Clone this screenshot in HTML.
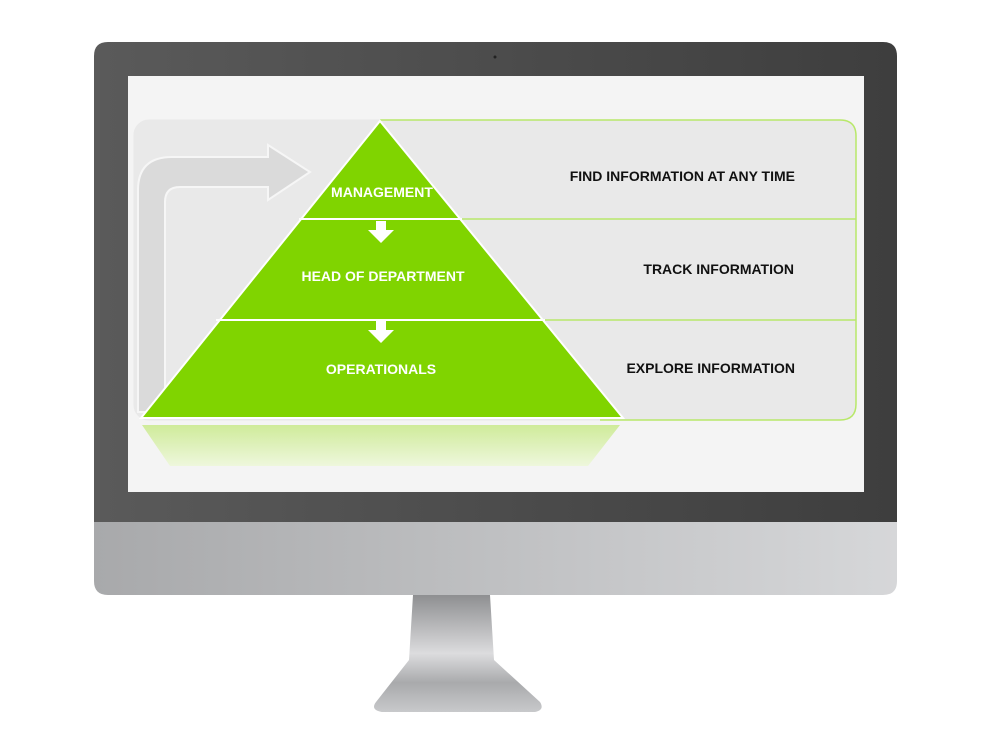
<!DOCTYPE html>
<html><head><meta charset="utf-8"><style>
html,body{margin:0;padding:0;background:#fff;width:1000px;height:750px;overflow:hidden}
svg{display:block}
text{font-family:"Liberation Sans",Arial,sans-serif;font-weight:bold}
</style></head><body>
<svg width="1000" height="750" viewBox="0 0 1000 750" xmlns="http://www.w3.org/2000/svg">
<defs>
<linearGradient id="bez" x1="0" x2="1" y1="0" y2="0"><stop offset="0" stop-color="#5a5a5a"/><stop offset="1" stop-color="#3e3e3e"/></linearGradient>
<linearGradient id="chin" x1="0" x2="1"><stop offset="0" stop-color="#a8a9ab"/><stop offset="0.5" stop-color="#bfc0c2"/><stop offset="1" stop-color="#d6d7d9"/></linearGradient>
<linearGradient id="stand" x1="0" x2="0" y1="0" y2="1"><stop offset="0" stop-color="#8e8f91"/><stop offset="0.5" stop-color="#dcdcde"/><stop offset="0.75" stop-color="#a9aaac"/><stop offset="1" stop-color="#c8c9cb"/></linearGradient>
<linearGradient id="refl" x1="0" x2="0" y1="0" y2="1"><stop offset="0" stop-color="#cfeb9a"/><stop offset="1" stop-color="#eef7dc"/></linearGradient>
</defs>
<!-- stand -->
<path d="M413 595 L490 595 L494 660 L540 702 Q545 710 535 712 L382 712 Q370 710 376 702 L409 660 Z" fill="url(#stand)"/>
<!-- bezel -->
<path d="M94 56 Q94 42 108 42 L883 42 Q897 42 897 56 L897 522 L94 522 Z" fill="url(#bez)"/>
<path d="M94 522 L897 522 L897 581 Q897 595 883 595 L108 595 Q94 595 94 581 Z" fill="url(#chin)"/>
<circle cx="495" cy="57" r="1.5" fill="#222"/>
<!-- screen -->
<rect x="128" y="76" width="736" height="416" fill="#f4f4f4"/>
<rect x="133" y="119" width="723" height="302" rx="16" fill="#e9e9e9" stroke="#f4f4f4"/>
<!-- right box green edges -->
<path d="M380 120 L840 120 Q856 120 856 136 L856 404 Q856 420 840 420 L600 420" fill="none" stroke="#b8e86a" stroke-width="1.5"/>
<line x1="460" y1="219" x2="856" y2="219" stroke="#b8e86a" stroke-width="1.5"/>
<line x1="540" y1="320" x2="856" y2="320" stroke="#b8e86a" stroke-width="1.5"/>
<!-- curved arrow -->
<path d="M138 412 L138 190 Q138 157 172 157 L268 157 L268 145 L310 172 L268 200 L268 187 L180 187 Q165 187 165 202 L165 412 Z" fill="#dadada" stroke="#f6f6f6" stroke-width="2"/>
<!-- pyramid -->
<path d="M380 121 L623 418 L141 418 Z" fill="#80d400" stroke="#fff" stroke-width="2"/>
<line x1="299" y1="219" x2="462" y2="219" stroke="#fff" stroke-width="2"/>
<line x1="216" y1="320" x2="545" y2="320" stroke="#fff" stroke-width="2"/>
<!-- down arrows -->
<path d="M376 221 L386 221 L386 230 L394 230 L381 243 L368 230 L376 230 Z" fill="#fff"/>
<path d="M376 321 L386 321 L386 330 L394 330 L381 343 L368 330 L376 330 Z" fill="#fff"/>
<!-- reflection -->
<path d="M142 425 L620 425 L588 466 L170 466 Z" fill="url(#refl)"/>
<!-- labels -->
<text x="382" y="197" font-size="14" fill="#fff" text-anchor="middle">MANAGEMENT</text>
<text x="383" y="281" font-size="14" fill="#fff" text-anchor="middle">HEAD OF DEPARTMENT</text>
<text x="381" y="374" font-size="14" fill="#fff" text-anchor="middle">OPERATIONALS</text>
<text x="795" y="181" font-size="14" fill="#111" text-anchor="end">FIND INFORMATION AT ANY TIME</text>
<text x="794" y="274" font-size="14" fill="#111" text-anchor="end">TRACK INFORMATION</text>
<text x="795" y="373" font-size="14" fill="#111" text-anchor="end">EXPLORE INFORMATION</text>
</svg>
</body></html>
